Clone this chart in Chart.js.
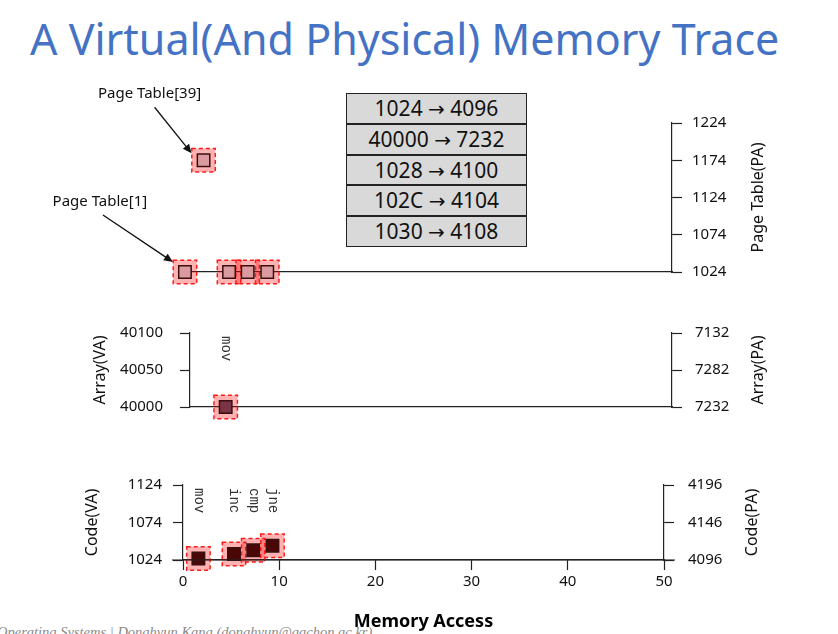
<!DOCTYPE html>
<html>
<head>
<meta charset="utf-8">
<script src="https://cdn.jsdelivr.net/npm/chart.js@4.4.0/dist/chart.umd.min.js"></script>
<style>
  body { margin: 0; width: 838px; height: 634px; overflow: hidden; background: #fff; position: relative; font-family: 'Noto Sans', sans-serif; }
  canvas { position: absolute; left: 0; top: 0; }
  #title { position: absolute; left: 30px; top: 17px; font-size: 43px; line-height: 43px; color: #4472C4; white-space: nowrap; }
  #map { position: absolute; left: 346px; top: 93px; width: 181px; }
  #map div { box-sizing: border-box; height: 30.8px; border: 1px solid #222; background: #d9d9d9; text-align: center; font-size: 21px; line-height: 28.8px; color: #111; white-space: nowrap; }
  #map span { font-family: 'DejaVu Sans', sans-serif; font-size: 20px; }
  #foot { position: absolute; left: -3px; top: 624px; font: italic 14.5px/16px 'Liberation Serif', serif; color: #8a8a8a; white-space: nowrap; }
</style>
</head>
<body>
<div id="title">A Virtual(And Physical) Memory Trace</div>
<div id="map"></div>
<div id="foot">Operating Systems | Donghyun Kang (donghyun@gachon.ac.kr)</div>
<canvas id="ptChart" width="838" height="634"></canvas>
<canvas id="arrChart" width="838" height="634"></canvas>
<canvas id="codeChart" width="838" height="634"></canvas>
<script>
// page table accesses (x = memory access #, y = PA)
var ptAccess = [0.3, 2.2, 4.8, 6.7, 8.7];
var ptAddr = [1024, 1174, 1024, 1024, 1024];

// array accesses
var arrAccess = [3.7];
var arrAddr = [40000];
var arrOps = ['mov'];
var arrRightTicks = ['7232', '7282', '7132'];

// code fetches
var codeAccess = [1.6, 5.3, 7.3, 9.3];
var codeAddr = [1026, 1032, 1037, 1043];
var codeOps = ['mov', 'inc', 'cmp', 'jne'];
var codeRightTicks = ['4096', '4146', '4196'];

// VA -> PA translations shown in the box
var mapVA = ['1024', '40000', '1028', '102C', '1030'];
var mapPA = ['4096', '7232', '4100', '4104', '4108'];

var map = document.getElementById('map');
mapVA.forEach(function (v, i) {
  var d = document.createElement('div');
  d.appendChild(document.createTextNode(v + ' '));
  var s = document.createElement('span');
  s.textContent = '\u2192';
  d.appendChild(s);
  d.appendChild(document.createTextNode(' ' + mapPA[i]));
  map.appendChild(d);
});

Chart.defaults.font.family = "'Noto Sans', sans-serif";
Chart.defaults.font.size = 15;
Chart.defaults.color = '#111';
Chart.defaults.animation = false;

var INK = '#222';

function yAxis(pos, min, max, step, pad, width, labels) {
  return {
    position: pos, min: min, max: max,
    afterFit: function (s) { s.width = width; },
    ticks: {
      stepSize: step, padding: pad,
      callback: function (v, i) { return labels ? labels[i] : String(v); }
    },
    grid: { display: true, drawOnChartArea: false, drawTicks: true, tickLength: 10, tickColor: INK, tickWidth: 1.2 },
    border: { display: true, color: INK, width: 1.2 }
  };
}

function plainX(h) {
  return {
    type: 'linear', min: 0, max: 50,
    afterFit: function (s) { s.height = h; },
    ticks: { display: false },
    grid: { display: false },
    border: { display: true, color: INK, width: 1.2 }
  };
}

function markers(xs, ys, fill, axis) {
  var pts = xs.map(function (x, i) { return { x: x, y: ys[i] }; });
  return [
    { data: pts, yAxisID: axis, pointStyle: 'rect', pointRadius: 8.8, backgroundColor: fill,
      borderColor: '#3a0f0f', borderWidth: 1.5, clip: false },
    { data: pts, yAxisID: axis, pointStyle: 'rect', pointRadius: 16.6, backgroundColor: 'rgba(255,0,0,0.3)',
      borderColor: '#ff1a1a', borderWidth: 1.5, clip: false }
  ];
}

var dashHalo = {
  id: 'dashHalo',
  beforeDatasetDraw: function (chart, args) { if (args.index === 1) chart.ctx.setLineDash([4, 3]); },
  afterDatasetDraw: function (chart, args) { if (args.index === 1) chart.ctx.setLineDash([]); }
};

var sideTitles = {
  id: 'sideTitles',
  afterDraw: function (chart, args, o) {
    var ctx = chart.ctx, a = chart.chartArea;
    var cy = (a.top + a.bottom) / 2;
    ctx.save();
    ctx.font = "16px 'Noto Sans'";
    ctx.fillStyle = '#111';
    ctx.textAlign = 'center';
    ctx.textBaseline = 'middle';
    [[o.left, a.left - o.gapL], [o.right, a.right + o.gapR]].forEach(function (p) {
      if (!p[0]) return;
      ctx.save();
      ctx.translate(p[1], cy);
      ctx.rotate(-Math.PI / 2);
      ctx.fillText(p[0], 0, 0);
      ctx.restore();
    });
    ctx.restore();
  }
};

var opLabels = {
  id: 'opLabels',
  afterDraw: function (chart, args, o) {
    if (!o.ops) return;
    var ctx = chart.ctx, a = chart.chartArea;
    var pts = chart.getDatasetMeta(0).data;
    ctx.save();
    ctx.font = "14px 'Liberation Mono', monospace";
    ctx.fillStyle = '#333';
    ctx.textAlign = 'left';
    ctx.textBaseline = 'middle';
    o.ops.forEach(function (t, i) {
      ctx.save();
      ctx.translate(pts[i].x, a.top + o.top);
      ctx.rotate(Math.PI / 2);
      ctx.fillText(t, 0, 0);
      ctx.restore();
    });
    ctx.restore();
  }
};

var pointNotes = {
  id: 'pointNotes',
  afterDraw: function (chart, args, o) {
    if (!o.notes) return;
    var ctx = chart.ctx;
    var pts = chart.getDatasetMeta(0).data;
    ctx.save();
    ctx.font = "15px 'Noto Sans'";
    ctx.fillStyle = '#111';
    ctx.strokeStyle = '#111';
    ctx.lineWidth = 1.3;
    ctx.textAlign = 'center';
    ctx.textBaseline = 'middle';
    o.notes.forEach(function (n) {
      var p = pts[n.i];
      ctx.fillText(n.text, p.x + n.tx, p.y + n.ty);
      var sx = p.x + n.sx, sy = p.y + n.sy, ex = p.x + n.ex, ey = p.y + n.ey;
      var ang = Math.atan2(ey - sy, ex - sx);
      ctx.beginPath();
      ctx.moveTo(sx, sy);
      ctx.lineTo(ex - 6 * Math.cos(ang), ey - 6 * Math.sin(ang));
      ctx.stroke();
      ctx.beginPath();
      ctx.moveTo(ex, ey);
      ctx.lineTo(ex - 9 * Math.cos(ang) + 4 * Math.sin(ang), ey - 9 * Math.sin(ang) - 4 * Math.cos(ang));
      ctx.lineTo(ex - 9 * Math.cos(ang) - 4 * Math.sin(ang), ey - 9 * Math.sin(ang) + 4 * Math.cos(ang));
      ctx.closePath();
      ctx.fill();
    });
    ctx.restore();
  }
};

var extendBase = {
  id: 'extendBase',
  afterDraw: function (chart, args, o) {
    if (!o.by) return;
    var ctx = chart.ctx, a = chart.chartArea;
    ctx.save();
    ctx.strokeStyle = INK;
    ctx.lineWidth = 1.2;
    ctx.beginPath();
    ctx.moveTo(a.left - o.by, a.bottom);
    ctx.lineTo(a.right + o.by, a.bottom);
    ctx.stroke();
    ctx.restore();
  }
};

var plugins = [dashHalo, sideTitles, opLabels, pointNotes, extendBase];

function baseOpts(pad) {
  return {
    responsive: false,
    layout: { padding: pad },
    events: [],
    plugins: { legend: { display: false }, tooltip: { enabled: false } }
  };
}

// top panel: page table
var o1 = baseOpts({ left: 182, right: 0, top: 123, bottom: 362 });
o1.scales = {
  x: plainX(0),
  y: yAxis('right', 1024, 1224, 50, 10, 166)
};
o1.plugins.sideTitles = { right: 'Page Table(PA)', gapR: 86 };
o1.plugins.pointNotes = { notes: [
  { i: 1, text: 'Page Table[39]', tx: -54, ty: -67, sx: -49, sy: -53, ex: -12, ey: -7 },
  { i: 0, text: 'Page Table[1]', tx: -85, ty: -70, sx: -82, sy: -57, ex: -12, ey: -10 }
] };
new Chart(document.getElementById('ptChart'), {
  type: 'scatter',
  data: { datasets: markers(ptAccess, ptAddr, '#db9aa0', 'y') },
  options: o1,
  plugins: plugins
});

// middle panel: array
var o2 = baseOpts({ left: 90, right: 0, top: 333, bottom: 227 });
o2.scales = {
  x: plainX(0),
  y: yAxis('left', 40000, 40100, 50, 17, 100),
  y2: yAxis('right', 40000, 40100, 50, 13, 166, arrRightTicks)
};
o2.plugins.sideTitles = { left: 'Array(VA)', right: 'Array(PA)', gapL: 90, gapR: 86 };
o2.plugins.opLabels = { ops: arrOps, top: 3 };
new Chart(document.getElementById('arrChart'), {
  type: 'scatter',
  data: { datasets: markers(arrAccess, arrAddr, '#7b3346', 'y') },
  options: o2,
  plugins: plugins
});

// bottom panel: code
var o3 = baseOpts({ left: 83, right: 0, top: 485, bottom: 0 });
o3.scales = {
  x: {
    type: 'linear', min: 0, max: 50,
    afterFit: function (s) { s.height = 74; },
    ticks: { stepSize: 10, padding: 3, maxRotation: 0, callback: function (v) { return String(v); } },
    grid: { display: true, drawOnChartArea: false, drawTicks: true, tickLength: 10, tickColor: INK, tickWidth: 1.2 },
    border: { display: true, color: INK, width: 1.2 },
    title: { display: true, text: 'Memory Access', color: '#000', font: { size: 18, weight: 'bold' }, padding: { top: 4, bottom: 1 } }
  },
  y: yAxis('left', 1024, 1124, 50, 11, 100),
  y2: yAxis('right', 1024, 1124, 50, 14, 174, codeRightTicks)
};
o3.plugins.sideTitles = { left: 'Code(VA)', right: 'Code(PA)', gapL: 91, gapR: 88 };
o3.plugins.opLabels = { ops: codeOps, top: 3 };
o3.plugins.extendBase = { by: 11 };
new Chart(document.getElementById('codeChart'), {
  type: 'scatter',
  data: { datasets: markers(codeAccess, codeAddr, '#4b0606', 'y') },
  options: o3,
  plugins: plugins
});
</script>
</body>
</html>
